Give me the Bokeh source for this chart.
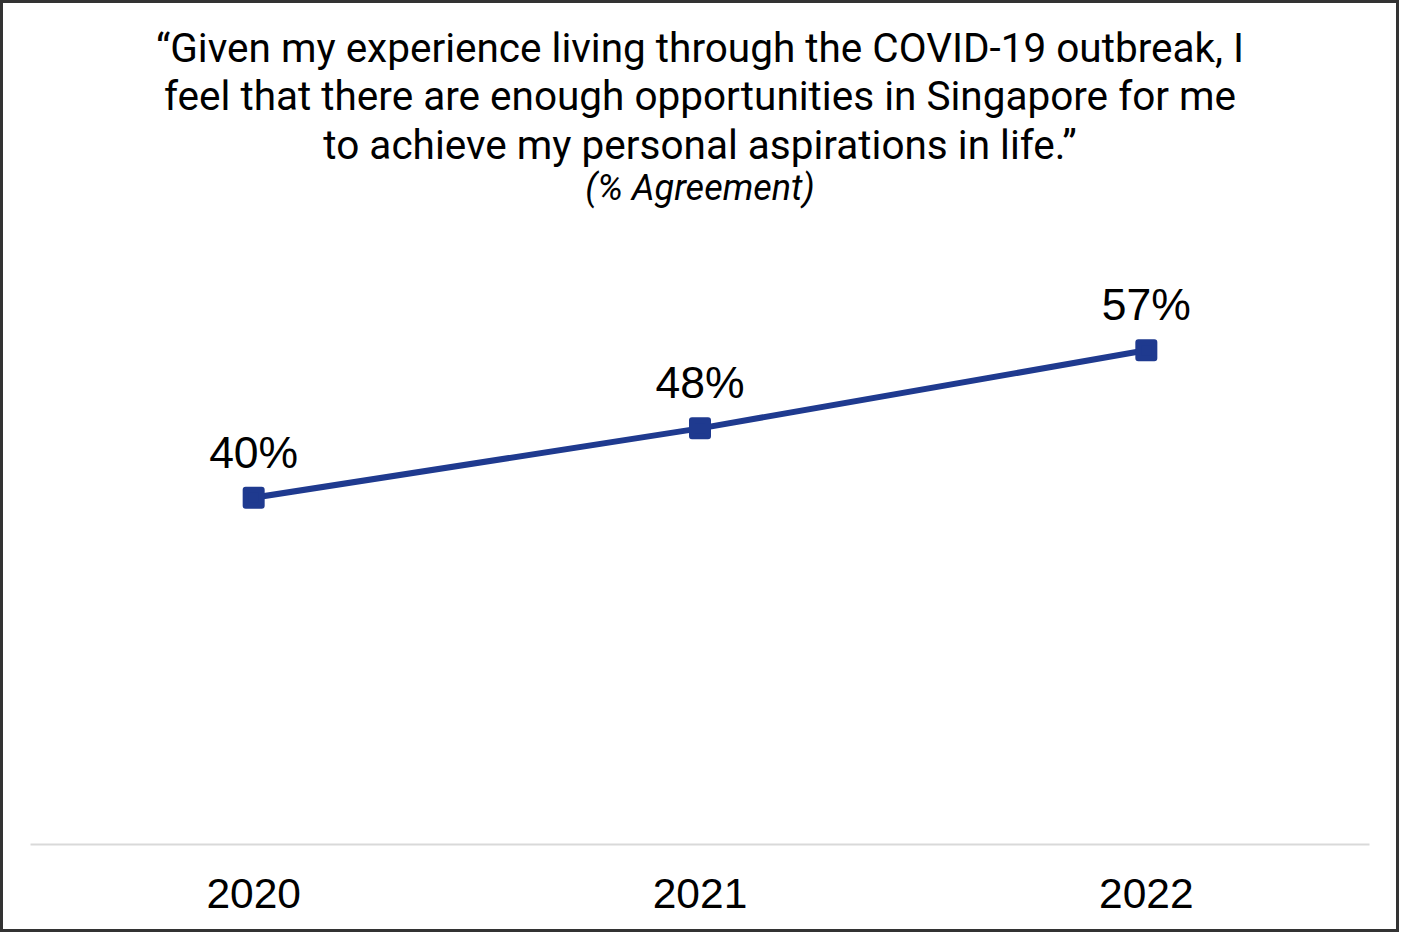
from bokeh.plotting import figure
from bokeh.layouts import column
from bokeh.models import ColumnDataSource, Range1d, LabelSet
from bokeh.core.properties import value
from bokeh.embed import file_html
from bokeh.resources import INLINE

# ---- data ----
years = ["2020", "2021", "2022"]
agree = [40, 48, 57]
labels = ["40%", "48%", "57%"]
title_lines = [
    "\u201cGiven my experience living through the COVID-19 outbreak, I",
    "feel that there are enough opportunities in Singapore for me",
    "to achieve my personal aspirations in life.\u201d",
]
subtitle = "(% Agreement)"

# ---- layout constants (pixels) ----
BORDER = 3
W, H = 1399 - 2 * BORDER, 932 - 2 * BORDER
FRAME_BOTTOM = 844 - BORDER
PX_PER_PCT = 8.67
LINE_COLOR = "#1F3A8F"


def px_to_y(px):
    return (FRAME_BOTTOM - (px - BORDER)) / PX_PER_PCT


src = ColumnDataSource(dict(year=years, agree=agree, label=labels))

p = figure(
    width=W, height=H,
    x_range=years,
    y_range=Range1d(0, FRAME_BOTTOM / PX_PER_PCT),
    output_backend="svg", toolbar_location=None,
    y_axis_location=None,
    min_border_left=30 - BORDER, min_border_right=30 - BORDER,
    min_border_top=0, min_border_bottom=H - FRAME_BOTTOM,
)
p.outline_line_color = None
p.xgrid.visible = False
p.ygrid.visible = False
p.background_fill_color = "white"
p.border_fill_color = "white"

ax = p.xaxis[0]
ax.axis_line_color = "#D9D9D9"
ax.axis_line_width = 2
ax.major_tick_line_color = None
ax.minor_tick_line_color = None
ax.major_label_text_font = "Liberation Sans"
ax.major_label_text_font_size = "42.5px"
ax.major_label_text_color = "black"
ax.major_label_standoff = 28

p.line("year", "agree", source=src, line_color=LINE_COLOR, line_width=6)
p.scatter("year", "agree", source=src, marker="square", size=16,
          fill_color=LINE_COLOR, line_color=LINE_COLOR, line_width=6,
          line_join="round")

p.add_layout(LabelSet(x="year", y="agree", text="label", source=src,
                      y_offset=30, text_align="center",
                      text_baseline="alphabetic",
                      text_font=value("Liberation Sans"),
                      text_font_size="44.5px", text_color="black"))

title_px = [47, 95, 144]
for line, px in zip(title_lines, title_px):
    p.text(x=["2021"], y=[px_to_y(px)], text=[line], text_align="center",
           text_baseline="middle", text_font=value("Roboto"),
           text_font_size="40.5px", text_color="black")

p.text(x=["2021"], y=[px_to_y(187)], text=[subtitle], text_align="center",
       text_baseline="middle", text_font=value("Roboto"),
       text_font_style="italic", text_font_size="36px", text_color="black")

layout = column(p, styles={"border": f"{BORDER}px solid #333333"})

open("out.html", "w").write(file_html(layout, INLINE))
